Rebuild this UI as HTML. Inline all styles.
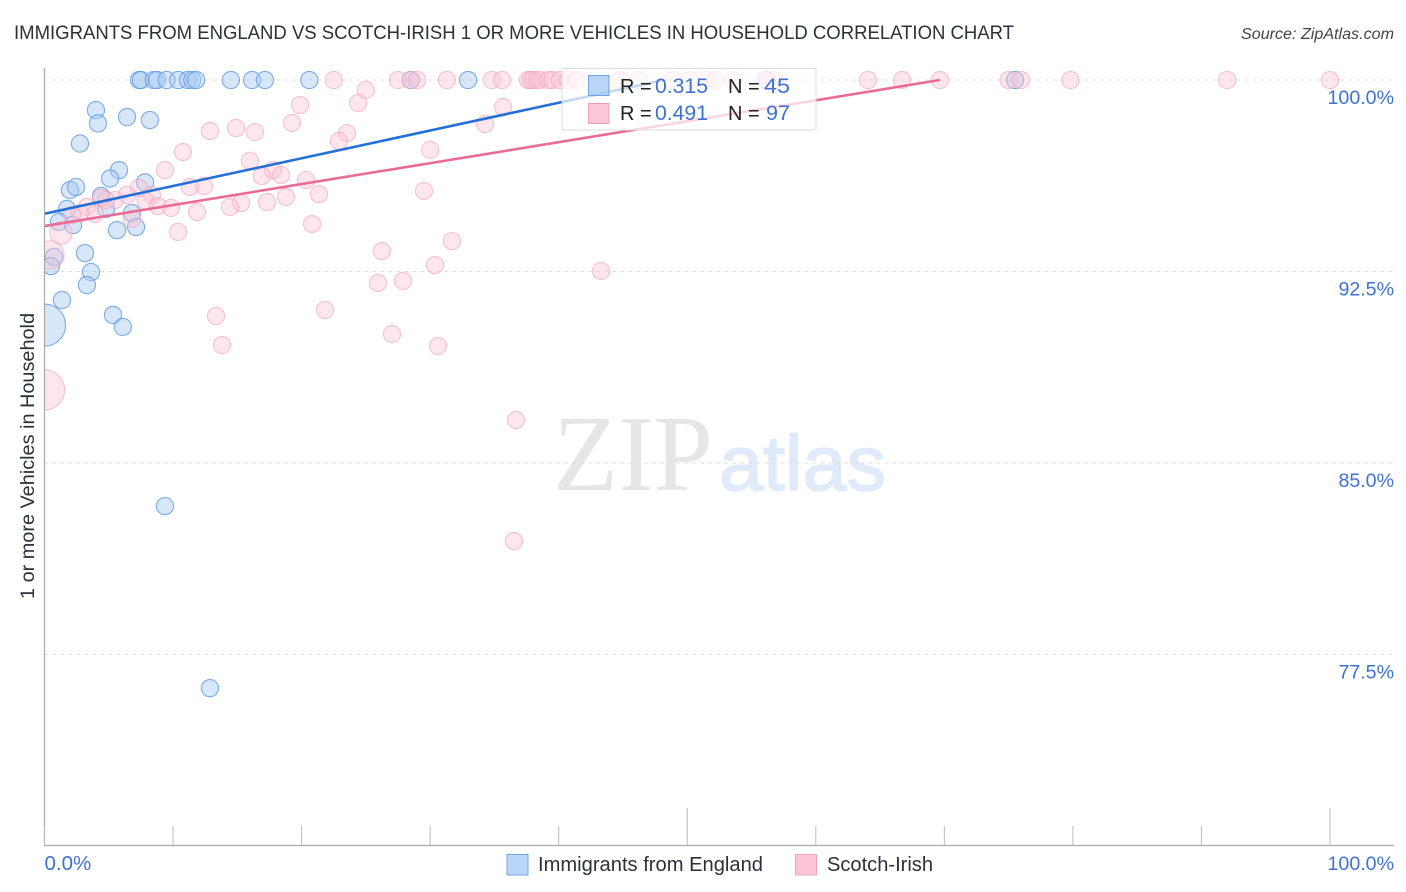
<!DOCTYPE html>
<html>
<head>
<meta charset="utf-8">
<title>Immigrants from England vs Scotch-Irish correlation chart</title>
<style>
html,body{margin:0;padding:0;background:#fff;}
svg{display:block;font-family:"Liberation Sans",sans-serif;}
</style>
</head>
<body>
<svg id="chart" width="1406" height="892" viewBox="0 0 1406 892" xmlns="http://www.w3.org/2000/svg">
  <defs>
    <clipPath id="plot-clip"><rect x="44.5" y="0" width="1362" height="845"/></clipPath>
  </defs>
  <text x="14" y="39" font-size="19.5" fill="#2b3138" textLength="1000" lengthAdjust="spacingAndGlyphs">IMMIGRANTS FROM ENGLAND VS SCOTCH-IRISH 1 OR MORE VEHICLES IN HOUSEHOLD CORRELATION CHART</text>
  <text x="1394" y="39" font-size="15.5" font-style="italic" fill="#444" text-anchor="end" textLength="153" lengthAdjust="spacingAndGlyphs">Source: ZipAtlas.com</text>

  <g>
    <text x="553" y="490" font-family="'Liberation Serif',serif" font-size="108" fill="#e6e6e6" textLength="160" lengthAdjust="spacingAndGlyphs">ZIP</text>
    <text x="719" y="490" font-size="78" fill="#dfeafa" stroke="#dfeafa" stroke-width="1.5" textLength="167" lengthAdjust="spacingAndGlyphs">atlas</text>
  </g>

  <g id="grid"></g>
  <g id="points" clip-path="url(#plot-clip)"></g>
  <g id="trends"></g>

  <line x1="44.5" y1="68" x2="44.5" y2="845" stroke="#aaa" stroke-width="1.2"/>
  <line x1="44" y1="845.5" x2="1394" y2="845.5" stroke="#aaa" stroke-width="1.2"/>
  <g id="xticks"></g>
  <g id="ylabels"></g>
  <g id="xlabels"></g>

  <text transform="translate(34,456) rotate(-90)" font-size="19" fill="#2b3138" text-anchor="middle" textLength="286" lengthAdjust="spacingAndGlyphs">1 or more Vehicles in Household</text>

  <g>
    <rect x="562" y="68.5" width="254" height="61.5" fill="#fff" fill-opacity="0.72" stroke="#ddd" stroke-width="1"/>
    <rect x="588.5" y="75.5" width="20.5" height="20" fill="#a9c9f3" fill-opacity="0.8" stroke="#6fa3e3" stroke-width="1"/>
    <rect x="588.5" y="103.5" width="20.5" height="20" fill="#fbbdd0" fill-opacity="0.85" stroke="#f09cb6" stroke-width="1"/>
    <text x="620" y="93" font-size="20" fill="#222">R =</text>
    <text x="655" y="93" font-size="21" fill="#3f72d2" textLength="53" lengthAdjust="spacingAndGlyphs">0.315</text>
    <text x="728" y="93" font-size="20" fill="#222">N =</text>
    <text x="764" y="93" font-size="21" fill="#3f72d2" textLength="26" lengthAdjust="spacingAndGlyphs">45</text>
    <text x="620" y="120" font-size="20" fill="#222">R =</text>
    <text x="655" y="120" font-size="21" fill="#3f72d2" textLength="53" lengthAdjust="spacingAndGlyphs">0.491</text>
    <text x="728" y="120" font-size="20" fill="#222">N =</text>
    <text x="766" y="120" font-size="21" fill="#3f72d2" textLength="24" lengthAdjust="spacingAndGlyphs">97</text>
  </g>

  <g>
    <rect x="507" y="854.5" width="21" height="20.5" fill="#b9d5f8" stroke="#77a8e2" stroke-width="1"/>
    <text x="538" y="871" font-size="20" fill="#2b3138" textLength="225" lengthAdjust="spacingAndGlyphs">Immigrants from England</text>
    <rect x="795.5" y="854.5" width="21" height="20.5" fill="#fcc4d6" stroke="#f2a6bd" stroke-width="1"/>
    <text x="827" y="871" font-size="20" fill="#2b3138" textLength="106" lengthAdjust="spacingAndGlyphs">Scotch-Irish</text>
  </g>
</svg>

<script>
const yTickValues = [100, 92.5, 85, 77.5];
const yTickLabels = ["100.0%", "92.5%", "85.0%", "77.5%"];
const xTickValues = [0, 10, 20, 30, 40, 50, 60, 70, 80, 90, 100];
const xTickMajor = [50, 100];
const xEndLabels = ["0.0%", "100.0%"];

const englandX = [7.35,7.5,8.5,8.75,9.5,10.4,11.15,11.5,11.8,14.5,16.15,17.15,20.6,28.5,32.95,56.2,75.5,
  4.0,4.16,6.42,8.2,2.76,5.8,5.1,7.82,1.98,2.45,4.4,1.75,4.78,6.8,1.13,2.22,5.64,7.12,3.15,0.74,0.5,3.62,3.3,1.36,5.33,6.1,0,9.37,12.87];
const englandY = [100,100,100,100,100,100,100,100,100,100,100,100,100,100,100,100,100,
  98.82,98.30,98.55,98.43,97.51,96.47,96.14,95.99,95.69,95.81,95.46,94.95,94.95,94.79,94.44,94.32,94.12,94.24,93.22,93.07,92.71,92.48,91.97,91.38,90.80,90.33,90.40,83.31,76.18];
const englandWeight = [1,1,1,1,1,1,1,1,1,1,1,1,1,1,1,1,1,
  1,1,1,1,1,1,1,1,1,1,1,1,1,1,1,1,1,1,1,1,1,1,1,1,1,1,6,1,1];

const scotchX = [22.5,27.5,28.5,29,31.3,34.8,35.6,37.6,37.8,38,38.3,38.55,39.2,39.5,40.1,40.7,41.4,44.8,46.2,48.9,50.2,51.5,52.2,53.6,56,56.8,64.05,66.7,69.65,75,75.95,79.8,92,100,
  19.88,25.0,24.4,35.67,19.25,34.27,12.87,14.9,16.37,23.53,22.9,10.77,30.0,15.98,9.37,17.77,16.92,18.4,20.34,12.4,11.32,7.35,29.52,6.42,8.36,5.48,4.4,7.9,8.83,9.84,3.3,4.78,18.79,17.31,15.29,14.43,11.86,21.35,20.81,3.93,2.76,6.8,10.38,31.7,26.25,30.38,43.29,25.94,27.89,21.82,13.34,27.03,30.61,13.81,36.68,36.52,1.28,0.43,0,2.14];
const scotchY = [100,100,100,100,100,100,100,100,100,100,100,100,100,100,100,100,100,100,100,100,100,100,100,100,100,100,100,100,100,100,100,100,100,100,
  99.02,99.61,99.10,98.94,98.32,98.28,98.0,98.12,97.96,97.92,97.61,97.18,97.26,96.83,96.47,96.47,96.24,96.28,96.08,95.85,95.81,95.77,95.65,95.5,95.5,95.3,95.38,95.26,95.06,94.99,95.03,95.3,95.42,95.22,95.18,95.03,94.83,95.53,94.36,94.75,94.79,94.56,94.05,93.69,93.3,92.75,92.52,92.05,92.13,90.99,90.76,90.05,89.58,89.62,86.68,81.94,94.01,93.15,87.86,94.71];
const scotchWeight = [1,1,1,1,1,1,1,1,1,1,1,1,1,1,1,1,1,1,1,1,1,1,1,1,1,1,1,1,1,1,1,1,1,1,
  1,1,1,1,1,1,1,1,1,1,1,1,1,1,1,1,1,1,1,1,1,1,1,1,1,1,1,1,1,1,1,1,1,1,1,1,1,1,1,1,1,1,1,1,1,1,1,1,1,1,1,1,1,1,1,1,1.7,2.7,5.5,1];

const englandTrendX = [0, 48.2];
const englandTrendY = [94.76, 100];
const scotchTrendX = [0, 69.65];
const scotchTrendY = [94.28, 100];

const NS = "http://www.w3.org/2000/svg";
function xScale(v){ return 44.5 + v * 12.855; }
function yScale(v){ return 80 + (100 - v) * 25.53; }
function rScale(w){ return 8.6 * Math.sqrt(w); }
function make(tag, parent, attrs){
  const el = document.createElementNS(NS, tag);
  for (const k in attrs) el.setAttribute(k, attrs[k]);
  parent.appendChild(el);
  return el;
}

const gridG = document.getElementById("grid");
const yLabelG = document.getElementById("ylabels");
yTickValues.forEach(function(v, i){
  const ln = make("line", gridG, {x1:44.5, x2:1394, y1:yScale(v), y2:yScale(v), stroke:"#dcdcdc", "stroke-width":1, "stroke-dasharray":"4 4"});
  
  
  const t = make("text", yLabelG, {x:1394, y:yScale(v)+24, "font-size":19.6, fill:"#3f72d2", "text-anchor":"end"});
  t.textContent = yTickLabels[i];
  
  
});

const xTickG = document.getElementById("xticks");
xTickValues.forEach(function(v){
  const top = xTickMajor.indexOf(v) >= 0 ? 808 : 826;
  const ln = make("line", xTickG, {x1:xScale(v), x2:xScale(v), y1:top, y2:845, stroke:"#bbb", "stroke-width":1});
  
  
});

const xLabelG = document.getElementById("xlabels");
const xLabelLeft = make("text", xLabelG, {x:44.5, y:870, "font-size":20.5, fill:"#3f72d2"});
xLabelLeft.textContent = xEndLabels[0];


const xLabelRight = make("text", xLabelG, {x:1394, y:870, "font-size":19.6, fill:"#3f72d2", "text-anchor":"end"});
xLabelRight.textContent = xEndLabels[1];



const pointG = document.getElementById("points");
englandX.forEach(function(v, i){
  const c = make("circle", pointG, {cx:xScale(v), cy:yScale(englandY[i]), r:rScale(englandWeight[i]), fill:"#a9c9f3", "fill-opacity":0.47, stroke:"#5f9ae2", "stroke-opacity":0.8, "stroke-width":1.1});
  
  
});
scotchX.forEach(function(v, i){
  const c = make("circle", pointG, {cx:xScale(v), cy:yScale(scotchY[i]), r:rScale(scotchWeight[i]), fill:"#fbc3d3", "fill-opacity":0.42, stroke:"#f0a0b8", "stroke-opacity":0.6, "stroke-width":1.1});
  
  
});

const trendG = document.getElementById("trends");
const englandLine = make("line", trendG, {x1:xScale(englandTrendX[0]), y1:yScale(englandTrendY[0]), x2:xScale(englandTrendX[1]), y2:yScale(englandTrendY[1]), stroke:"#2470d8", "stroke-width":2.6});


const scotchLine = make("line", trendG, {x1:xScale(scotchTrendX[0]), y1:yScale(scotchTrendY[0]), x2:xScale(scotchTrendX[1]), y2:yScale(scotchTrendY[1]), stroke:"#ea6c96", "stroke-width":2.6});


</script>
</body>
</html>
